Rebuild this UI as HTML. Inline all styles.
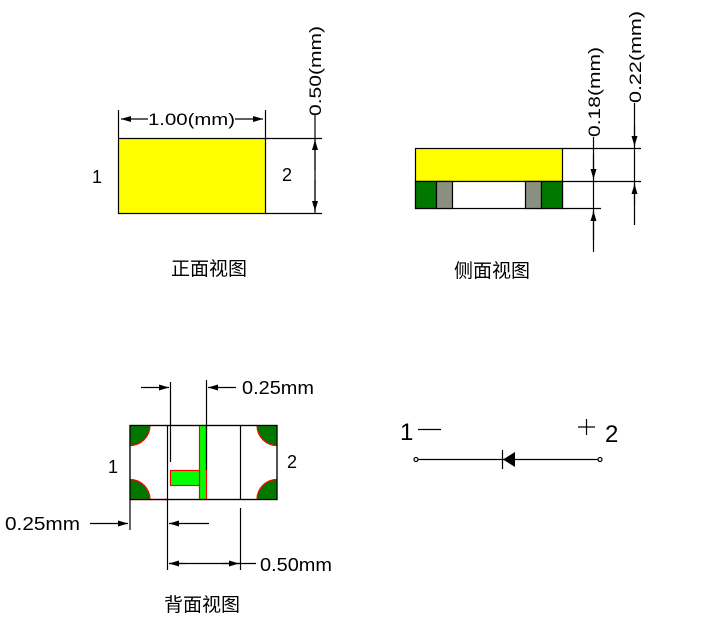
<!DOCTYPE html>
<html><head><meta charset="utf-8"><style>
html,body{margin:0;padding:0;background:#fff;}
svg{display:block;}
text{font-family:"Liberation Sans","Noto Sans CJK SC",sans-serif;fill:#000;}
</style></head><body>
<svg width="715" height="638" viewBox="0 0 715 638" xmlns="http://www.w3.org/2000/svg">
<defs>
<marker id="a" viewBox="0 0 10 6" refX="10" refY="3" markerWidth="12" markerHeight="6" orient="auto" markerUnits="userSpaceOnUse"><path d="M0,0 L10,3 L0,6z" fill="#000"/></marker>
</defs>
<g stroke="#000" stroke-width="1.2" fill="none">
<rect x="118.5" y="138.5" width="147" height="75" fill="#ffff00"/>
<line x1="265" y1="138.5" x2="322" y2="138.5"/>
<line x1="265" y1="213.5" x2="322" y2="213.5"/>
<line x1="118.5" y1="110" x2="118.5" y2="138"/>
<line x1="265.5" y1="110" x2="265.5" y2="138"/>
<line x1="148" y1="119" x2="121" y2="119" marker-end="url(#a)"/>
<line x1="235" y1="119" x2="263" y2="119" marker-end="url(#a)"/>
<line x1="315" y1="115" x2="315" y2="213"/>
<line x1="315" y1="170" x2="315" y2="140" marker-end="url(#a)"/>
<line x1="315" y1="180" x2="315" y2="211" marker-end="url(#a)"/>
<rect x="415.5" y="148.5" width="147" height="33" fill="#ffff00"/>
<rect x="415.5" y="181.5" width="147" height="27" fill="#fff"/>
<rect x="415.5" y="181.5" width="21" height="27" fill="#007800"/>
<rect x="436.5" y="181.5" width="16" height="27" fill="#8a9080"/>
<rect x="525.5" y="181.5" width="16" height="27" fill="#8a9080"/>
<rect x="541.5" y="181.5" width="21" height="27" fill="#007800"/>
<line x1="562" y1="148.5" x2="641" y2="148.5"/>
<line x1="562" y1="181.5" x2="641" y2="181.5"/>
<line x1="562" y1="208.5" x2="601" y2="208.5"/>
<line x1="593.5" y1="137" x2="593.5" y2="252"/>
<line x1="593.5" y1="155" x2="593.5" y2="179" marker-end="url(#a)"/>
<line x1="593.5" y1="240" x2="593.5" y2="211" marker-end="url(#a)"/>
<line x1="634.5" y1="103" x2="634.5" y2="225"/>
<line x1="634.5" y1="125" x2="634.5" y2="146" marker-end="url(#a)"/>
<line x1="634.5" y1="205" x2="634.5" y2="184" marker-end="url(#a)"/>
<rect x="130" y="425.5" width="147" height="74" fill="#fff"/>
<path d="M130,425.5 h20 a20,20 0 0 1 -20,20z" fill="#007800" stroke="none"/>
<path d="M130,499.5 h20 a20,20 0 0 0 -20,-20z" fill="#007800" stroke="none"/>
<path d="M277,425.5 h-20 a20,20 0 0 0 20,20z" fill="#007800" stroke="none"/>
<path d="M277,499.5 h-20 a20,20 0 0 1 20,-20z" fill="#007800" stroke="none"/>
<path d="M150,425.5 a20,20 0 0 1 -20,20 M150,499.5 a20,20 0 0 0 -20,-20 M257,425.5 a20,20 0 0 0 20,20 M257,499.5 a20,20 0 0 1 20,-20" stroke="#ff0000"/>
<rect x="199.5" y="425.5" width="7" height="74" fill="#00ff00" stroke="#ff0000"/>
<rect x="170.5" y="470.5" width="29" height="15" fill="#00ff00" stroke="#ff0000"/>
<line x1="130" y1="499.5" x2="167" y2="499.5" stroke="#ff0000"/>
<rect x="130" y="425.5" width="147" height="74"/>
<line x1="167.5" y1="425" x2="167.5" y2="500"/>
<line x1="240.5" y1="425" x2="240.5" y2="500"/>
<line x1="170.5" y1="382" x2="170.5" y2="462"/>
<line x1="206.5" y1="380" x2="206.5" y2="470"/>
<line x1="141" y1="387.5" x2="169" y2="387.5" marker-end="url(#a)"/>
<line x1="236" y1="387.5" x2="208" y2="387.5" marker-end="url(#a)"/>
<line x1="130" y1="500" x2="130" y2="530"/>
<line x1="167.5" y1="500" x2="167.5" y2="570"/>
<line x1="240.5" y1="508" x2="240.5" y2="570"/>
<line x1="90" y1="523.5" x2="128" y2="523.5" marker-end="url(#a)"/>
<line x1="209" y1="523.5" x2="169" y2="523.5" marker-end="url(#a)"/>
<line x1="185" y1="563.5" x2="169" y2="563.5" marker-end="url(#a)"/>
<line x1="222" y1="563.5" x2="239" y2="563.5" marker-end="url(#a)"/>
<line x1="169" y1="563.5" x2="256" y2="563.5"/>
<line x1="418" y1="459.5" x2="598" y2="459.5"/>
<circle cx="416" cy="459.5" r="2" fill="#fff"/>
<circle cx="600" cy="459.5" r="2" fill="#fff"/>
<line x1="502.5" y1="450" x2="502.5" y2="469"/>
<line x1="418" y1="429.5" x2="441" y2="429.5"/>
<line x1="578" y1="427" x2="595" y2="427"/>
<line x1="586.5" y1="419" x2="586.5" y2="435"/>
</g>
<path d="M503,459.5 L515,452 L515,467z" fill="#000"/>
<g font-size="18">
<text x="92" y="183">1</text>
<text x="282" y="181">2</text>
<text x="108" y="473">1</text>
<text x="287" y="468">2</text>
<text x="148" y="125" font-size="17" textLength="87" lengthAdjust="spacingAndGlyphs">1.00(mm)</text>
<text transform="translate(321,116) rotate(-90)" font-size="17" textLength="90" lengthAdjust="spacingAndGlyphs">0.50(mm)</text>
<text transform="translate(600,137) rotate(-90)" font-size="17" textLength="90" lengthAdjust="spacingAndGlyphs">0.18(mm)</text>
<text transform="translate(641,103) rotate(-90)" font-size="17" textLength="92" lengthAdjust="spacingAndGlyphs">0.22(mm)</text>
<text x="242" y="394" font-size="18" textLength="72" lengthAdjust="spacingAndGlyphs">0.25mm</text>
<text x="5" y="530" font-size="18" textLength="75" lengthAdjust="spacingAndGlyphs">0.25mm</text>
<text x="260" y="571" font-size="18" textLength="72" lengthAdjust="spacingAndGlyphs">0.50mm</text>
<text x="400" y="440" font-size="24">1</text>
<text x="605" y="442" font-size="24">2</text>
<text x="171" y="275" font-size="19">正面视图</text>
<text x="454" y="277" font-size="19">侧面视图</text>
<text x="164" y="611" font-size="19">背面视图</text>
</g>
</svg>
</body></html>
